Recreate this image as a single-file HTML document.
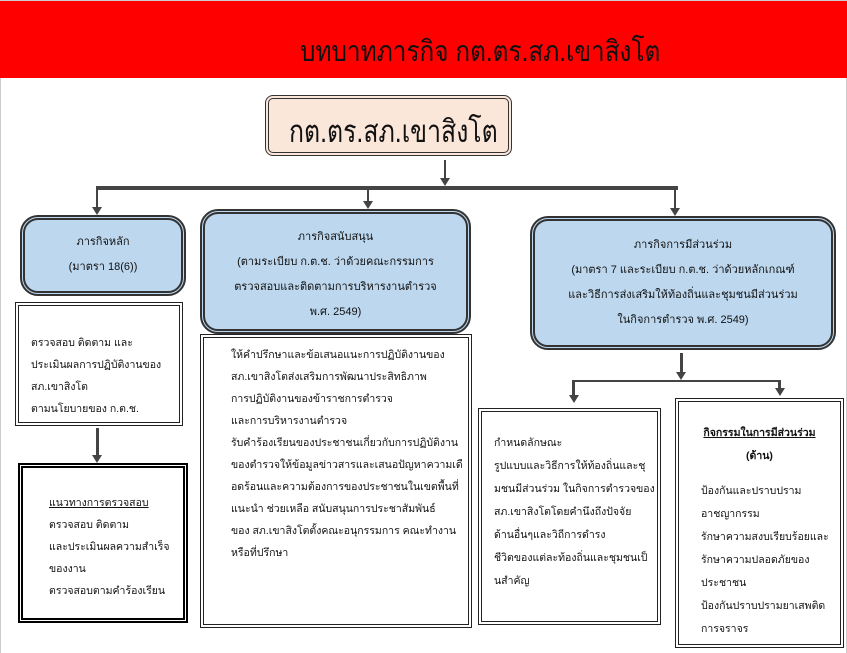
<!DOCTYPE html>
<html><head><meta charset="utf-8"><style>
body{margin:0;width:847px;height:653px;background:#fff;position:relative;overflow:hidden;font-family:"Liberation Sans","DejaVu Sans",sans-serif;color:#111}
.a{position:absolute;box-sizing:border-box;white-space:nowrap}
.hdr{left:0;top:0;width:847px;height:78px;background:#fe0000;border-top:1px solid #ccc}
.hdr span{position:absolute;left:300px;top:27px;font-size:29px;color:#111;transform:scaleX(0.84);transform-origin:left top}
.main{left:265px;top:95px;width:247px;height:61px;background:#fbe6da;border:4px double #333;border-radius:8px}
.main span{position:absolute;left:20px;top:7px;font-size:31px;transform:scaleX(0.8);transform-origin:left top}
.blue{background:#bdd7ee;border:5px double #333;border-radius:18px;text-align:center;font-size:11px;line-height:25px}
.wb{background:#fff;border:4px double #222;font-size:10.5px;line-height:22px}
.ln{background:#444}
.arr{width:0;height:0;border-left:5px solid transparent;border-right:5px solid transparent;border-top:8px solid #444}
u{text-decoration:underline}
</style></head><body>
<div class="a hdr"><span>บทบาทภารกิจ กต.ตร.สภ.เขาสิงโต</span></div>
<div class="a" style="left:0;top:78px;width:1px;height:575px;background:#ccc"></div>
<div class="a" style="left:846px;top:78px;width:1px;height:575px;background:#ccc"></div>
<div class="a main"><span>กต.ตร.สภ.เขาสิงโต</span></div>
<div class="a ln" style="left:444px;top:160px;width:2px;height:20px"></div>
<div class="a arr" style="left:440px;top:178px"></div>
<div class="a ln" style="left:96px;top:186px;width:582px;height:4px"></div>
<div class="a ln" style="left:96px;top:186px;width:2px;height:22px"></div>
<div class="a arr" style="left:92px;top:207px"></div>
<div class="a ln" style="left:367px;top:186px;width:2px;height:16px"></div>
<div class="a arr" style="left:363px;top:201px"></div>
<div class="a ln" style="left:674px;top:186px;width:2px;height:22px"></div>
<div class="a arr" style="left:670px;top:208px"></div>
<!-- left column -->
<div class="a blue" style="left:20px;top:215px;width:166px;height:81px;padding-top:10px">ภารกิจหลัก<br>(มาตรา 18(6))</div>
<div class="a wb" style="left:15px;top:302px;width:168px;height:124px;padding:26px 0 0 12px">ตรวจสอบ ติดตาม และ<br>ประเมินผลการปฏิบัติงานของ<br>สภ.เขาสิงโต<br>ตามนโยบายของ ก.ต.ช.</div>
<div class="a ln" style="left:96px;top:428px;width:3px;height:28px"></div>
<div class="a arr" style="left:92px;top:455px"></div>
<div class="a wb" style="left:18px;top:463px;width:170px;height:160px;border:5px double #000;padding:24px 0 0 26px;line-height:22px"><u>แนวทางการตรวจสอบ</u><br>ตรวจสอบ ติดตาม<br>และประเมินผลความสำเร็จ<br>ของงาน<br>ตรวจสอบตามคำร้องเรียน</div>
<!-- middle -->
<div class="a blue" style="left:200px;top:209px;width:271px;height:125px;padding-top:11px">ภารกิจสนับสนุน<br>(ตามระเบียบ ก.ต.ช. ว่าด้วยคณะกรรมการ<br>ตรวจสอบและติดตามการบริหารงานตำรวจ<br>พ.ศ. 2549)</div>
<div class="a wb" style="left:200px;top:334px;width:272px;height:294px;padding:6px 0 0 27px">ให้คำปรึกษาและข้อเสนอแนะการปฏิบัติงานของ<br>สภ.เขาสิงโตส่งเสริมการพัฒนาประสิทธิภาพ<br>การปฏิบัติงานของข้าราชการตำรวจ<br>และการบริหารงานตำรวจ<br>รับคำร้องเรียนของประชาชนเกี่ยวกับการปฏิบัติงาน<br>ของตำรวจให้ข้อมูลข่าวสารและเสนอปัญหาความเดื<br>อดร้อนและความต้องการของประชาชนในเขตพื้นที่<br>แนะนำ ช่วยเหลือ สนับสนุนการประชาสัมพันธ์<br>ของ สภ.เขาสิงโตตั้งคณะอนุกรรมการ คณะทำงาน<br>หรือที่ปรึกษา</div>
<!-- right -->
<div class="a blue" style="left:530px;top:216px;width:306px;height:134px;padding-top:12px">ภารกิจการมีส่วนร่วม<br>(มาตรา 7 และระเบียบ ก.ต.ช. ว่าด้วยหลักเกณฑ์<br>และวิธีการส่งเสริมให้ท้องถิ่นและชุมชนมีส่วนร่วม<br>ในกิจการตำรวจ พ.ศ. 2549)</div>
<div class="a ln" style="left:680px;top:353px;width:3px;height:20px"></div>
<div class="a arr" style="left:676px;top:372px"></div>
<div class="a ln" style="left:572px;top:380px;width:209px;height:2px"></div>
<div class="a ln" style="left:572px;top:380px;width:3px;height:16px"></div>
<div class="a arr" style="left:569px;top:395px"></div>
<div class="a ln" style="left:778px;top:380px;width:3px;height:8px"></div>
<div class="a arr" style="left:775px;top:388px"></div>
<div class="a wb" style="left:478px;top:408px;width:183px;height:217px;padding:20px 0 0 12px;line-height:23px">กำหนดลักษณะ<br>รูปแบบและวิธีการให้ท้องถิ่นและชุ<br>มชนมีส่วนร่วม ในกิจการตำรวจของ<br>สภ.เขาสิงโตโดยคำนึงถึงปัจจัย<br>ด้านอื่นๆและวิถีการดำรง<br>ชีวิตของแต่ละท้องถิ่นและชุมชนเป็<br>นสำคัญ</div>
<div class="a wb" style="left:675px;top:398px;width:169px;height:250px;padding:20px 0 0 22px;line-height:23px"><div style="text-align:center;padding-right:22px;font-weight:bold;font-size:10.5px"><u>กิจกรรมในการมีส่วนร่วม</u><br>(ด้าน)</div><div style="margin-top:12px">ป้องกันและปราบปราม<br>อาชญากรรม<br>รักษาความสงบเรียบร้อยและ<br>รักษาความปลอดภัยของ<br>ประชาชน<br>ป้องกันปราบปรามยาเสพติด<br>การจราจร</div></div>
</body></html>
